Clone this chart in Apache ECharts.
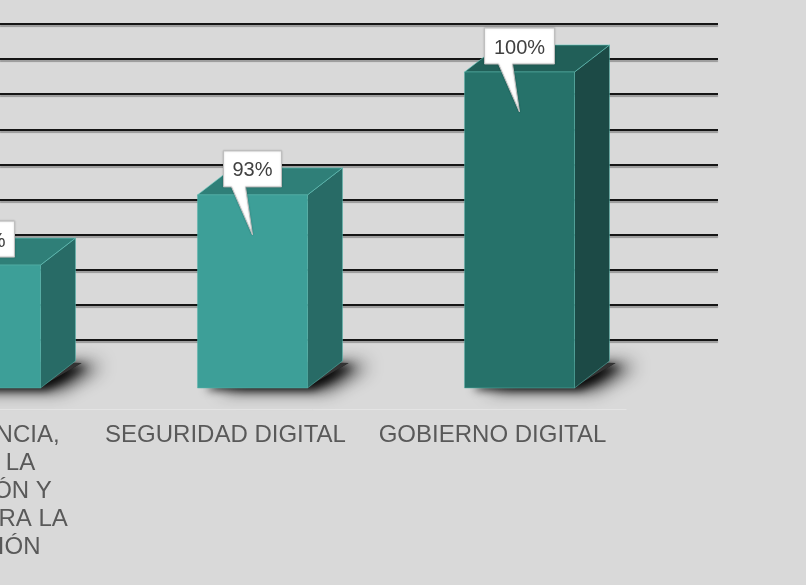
<!DOCTYPE html>
<html>
<head>
<meta charset="utf-8">
<script src="https://cdn.jsdelivr.net/npm/echarts@6/dist/echarts.min.js"></script>
<style>
  html, body { margin: 0; padding: 0; background: #d9d9d9; }
  #chart { width: 806px; height: 585px; }
</style>
</head>
<body>
<div id="chart"></div>
<script>
// datos del grafico
const categories = [
  "TRANSPARENCIA, ACCESO A LA INFORMACIÓN Y LUCHA CONTRA LA CORRUPCIÓN",
  "SEGURIDAD DIGITAL",
  "GOBIERNO DIGITAL"
];
const values = [89, 93, 100];
const valueLabels = ["89%", "93%", "100%"];
const axisRange = [82, 100]; // min / max del eje (%)
const axisStep = 2;

// colores por barra (frente, lado, tapa)
const palette = [
  { front: "#3d9f98", side: "#286b66", top: "#2f7f78" },
  { front: "#3d9f98", side: "#286b66", top: "#2f7f78" },
  { front: "#26726a", side: "#1c4a46", top: "#215f58" }
];

const myChart = echarts.init(document.getElementById("chart"));

function renderBox(params, api) {
  const i = api.value(0);
  const v = api.value(1);
  const topPt = api.coord([i, v]);
  const basePt = api.coord([i, axisRange[0]]);
  const half = api.size([1, 0])[0] * 0.206;
  const dx = 35, dy = -27;
  const L = topPt[0] - half, R = topPt[0] + half;
  const T = topPt[1], B = basePt[1];
  const c = palette[i];
  const cx = topPt[0];
  const text = valueLabels[i];
  const bw = text.length * 12 + 22, bh = 36;
  const bt = T - 44, bb = bt + bh;
  const bl = cx - bw / 2, br = cx + bw / 2;
  const foot = [[L + 2, B - 1], [R, B - 1], [R + dx + 6, B + dy + 2], [L + dx, B + dy]];
  return {
    type: "group",
    children: [
      // sombra en el piso
      {
        type: "polygon",
        shape: { points: foot },
        style: { fill: "#333", shadowBlur: 18, shadowOffsetX: 20, shadowOffsetY: 2, shadowColor: "rgba(0,0,0,0.9)" }
      },
      {
        type: "polygon",
        shape: { points: foot },
        style: { fill: "#333", shadowBlur: 8, shadowOffsetX: 6, shadowOffsetY: 3, shadowColor: "rgba(0,0,0,0.8)" }
      },
      {
        type: "polygon",
        shape: { points: [[R, T], [R + dx, T + dy], [R + dx, B + dy], [R, B]] },
        style: { fill: c.side, stroke: "rgba(90,190,180,0.5)", lineWidth: 1 }
      },
      {
        type: "polygon",
        shape: { points: [[L, T], [L + dx, T + dy], [R + dx, T + dy], [R, T]] },
        style: { fill: c.top, stroke: "rgba(100,200,190,0.6)", lineWidth: 1 }
      },
      {
        type: "rect",
        shape: { x: L, y: T, width: R - L, height: B - T },
        style: { fill: c.front, stroke: "rgba(90,180,170,0.5)", lineWidth: 1 }
      },
      {
        type: "polygon",
        shape: { points: [[bl, bt], [br, bt], [br, bb], [cx - 7, bb], [cx, T + 40], [cx - 21, bb], [bl, bb]] },
        style: { fill: "#ffffff", stroke: "#bfbfbf", lineWidth: 1, shadowBlur: 2, shadowColor: "rgba(0,0,0,0.2)" }
      },
      {
        type: "text",
        style: {
          x: cx, y: bt + bh / 2 + 2, text: text, align: "center", verticalAlign: "middle",
          font: "20px 'Liberation Sans', Arial, sans-serif", fill: "#404040"
        }
      }
    ]
  };
}

myChart.setOption({
  backgroundColor: "#d9d9d9",
  animation: false,
  grid: [
    // pared del fondo
    { left: 0, right: 88, top: 24, bottom: 245, outerBoundsMode: "none" },
    // barras
    { left: -148, width: 801, top: 72, bottom: 197, outerBoundsMode: "none" },
    // etiquetas / piso
    { left: -175, width: 801, top: 72, bottom: 176, outerBoundsMode: "none" }
  ],
  xAxis: [
    { gridIndex: 0, type: "category", data: categories, show: false },
    { gridIndex: 1, type: "category", data: categories, show: false },
    {
      gridIndex: 2,
      type: "category",
      data: categories,
      axisLine: { lineStyle: { color: "#e4e4e4", width: 1 } },
      axisTick: { show: false },
      axisLabel: {
        interval: 0,
        margin: 12,
        width: 250,
        overflow: "break",
        color: "#595959",
        fontSize: 24,
        lineHeight: 28,
        fontFamily: "'Liberation Sans', Arial, sans-serif"
      }
    }
  ],
  yAxis: [
    {
      gridIndex: 0,
      type: "value",
      min: axisRange[0],
      max: axisRange[1],
      interval: axisStep,
      axisLine: { show: false },
      axisTick: { show: false },
      axisLabel: { show: false },
      splitLine: {
        lineStyle: {
          color: "#151515",
          width: 2,
          shadowColor: "rgba(0,0,0,0.3)",
          shadowOffsetY: 2,
          shadowBlur: 1
        }
      }
    },
    { gridIndex: 1, type: "value", min: axisRange[0], max: axisRange[1], show: false },
    { gridIndex: 2, type: "value", min: axisRange[0], max: axisRange[1], show: false }
  ],
  series: [
    {
      type: "custom",
      xAxisIndex: 1,
      yAxisIndex: 1,
      renderItem: renderBox,
      encode: { x: 0, y: 1 },
      data: values.map((v, i) => [i, v])
    }
  ]
});
</script>
</body>
</html>
